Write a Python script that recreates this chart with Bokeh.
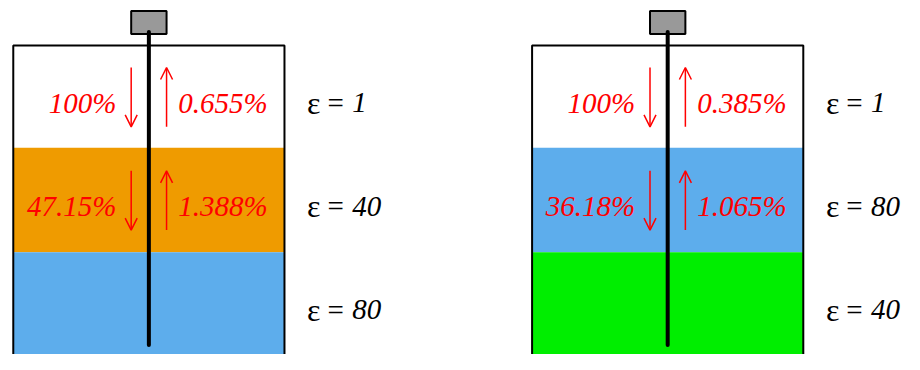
from bokeh.plotting import figure
from bokeh.models import Range1d, Arrow, OpenHead
from bokeh.core.properties import value
from bokeh.embed import file_html
from bokeh.resources import INLINE

# ---- data ----
down_pct_left = ["100%", "47.15%"]
up_pct_left = ["0.655%", "1.388%"]
down_pct_right = ["100%", "36.18%"]
up_pct_right = ["0.385%", "1.065%"]
eps_left = ["1", "40", "80"]
eps_right = ["1", "80", "40"]
layer_colors_left = ["#FFFFFF", "#EF9B00", "#5DADEC"]
layer_colors_right = ["#FFFFFF", "#5DADEC", "#00EE00"]

# ---- layout (reference-pixel coordinates) ----
layer_tops = [47, 154, 263]
layer_bottoms = [154, 263, 372]
panel_offsets = [0, 528]
box_l, box_r = 13, 289
rod_x = 151
arrow_dx = 18
text_rows = [107, 215, 323]
arrow_rows = [(70, 132), (178, 240)]

FONT = value("Liberation Serif")
FS = "29px"

p = figure(width=904, height=354, x_range=Range1d(0, 920), y_range=Range1d(370, 0),
           output_backend="svg", toolbar_location=None, min_border=0)
p.axis.visible = False
p.grid.visible = False
p.outline_line_color = None
p.background_fill_color = "white"
p.border_fill_color = "white"

panels = [
    (layer_colors_left, down_pct_left, up_pct_left, eps_left),
    (layer_colors_right, down_pct_right, up_pct_right, eps_right),
]

for off, (colors, dpct, upct, eps) in zip(panel_offsets, panels):
    # layers
    p.quad(left=[box_l + off] * 3, right=[box_r + off] * 3, top=layer_tops, bottom=layer_bottoms,
           fill_color=colors, line_color=None)
    # container outline
    p.line([box_l + off, box_l + off, box_r + off, box_r + off], [372, 47, 47, 372],
           line_color="black", line_width=2)
    # electrode head
    p.quad(left=[rod_x - 18 + off], right=[rod_x + 18 + off], top=[11], bottom=[35],
           fill_color="#999999", line_color="black", line_width=2)
    # rod
    p.segment(x0=[rod_x + off], y0=[33], x1=[rod_x + off], y1=[360],
              line_color="black", line_width=4, line_cap="round")
    # arrows
    for (ya, yb) in arrow_rows:
        p.add_layout(Arrow(end=OpenHead(size=12, line_color="red", line_width=1.5),
                           x_start=rod_x - arrow_dx + off, y_start=ya,
                           x_end=rod_x - arrow_dx + off, y_end=yb,
                           line_color="red", line_width=1.5))
        p.add_layout(Arrow(end=OpenHead(size=12, line_color="red", line_width=1.5),
                           x_start=rod_x + arrow_dx + off, y_start=yb,
                           x_end=rod_x + arrow_dx + off, y_end=ya,
                           line_color="red", line_width=1.5))
    # percentages
    p.text(x=[rod_x - 33 + off] * 2, y=text_rows[:2], text=dpct,
           text_font=FONT, text_font_style="italic", text_font_size=FS,
           text_color="red", text_align="right", text_baseline="alphabetic")
    p.text(x=[rod_x + 30 + off] * 2, y=text_rows[:2], text=upct,
           text_font=FONT, text_font_style="italic", text_font_size=FS,
           text_color="red", text_align="left", text_baseline="alphabetic")
    # epsilon labels
    p.text(x=[312 + off] * 3, y=text_rows, text=["ε"] * 3,
           text_font=FONT, text_font_size="32px",
           text_color="black", text_align="left", text_baseline="alphabetic")
    p.text(x=[341 + off] * 3, y=text_rows, text=["="] * 3,
           text_font=FONT, text_font_size=FS,
           text_color="black", text_align="center", text_baseline="alphabetic")
    p.text(x=[358 + off] * 3, y=text_rows, text=eps,
           text_font=FONT, text_font_style="italic", text_font_size=FS,
           text_color="black", text_align="left", text_baseline="alphabetic")

open("out.html", "w").write(file_html(p, INLINE))
